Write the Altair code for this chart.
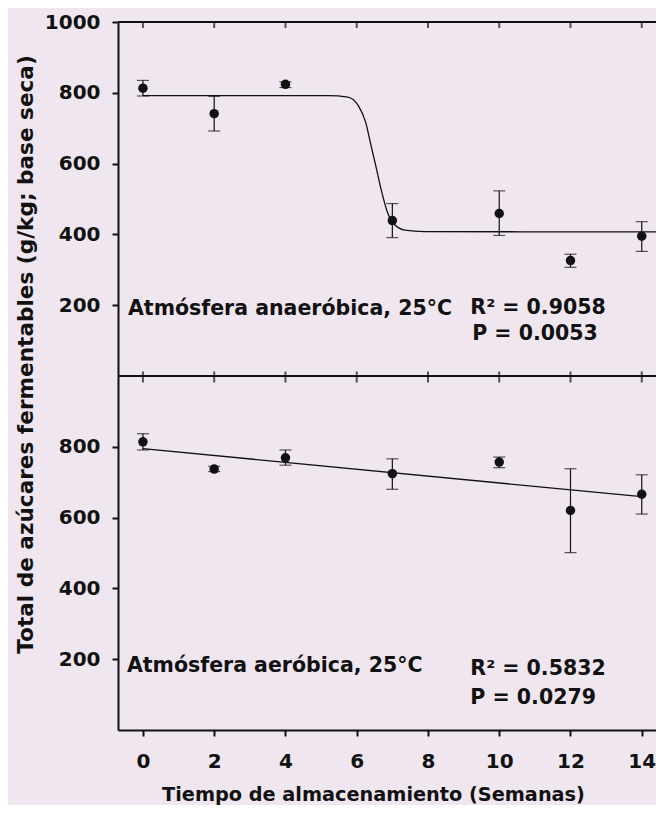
import altair as alt
import pandas as pd

# ---------------- data ----------------
weeks = [0, 2, 4, 7, 10, 12, 14]

# upper panel: anaerobic atmosphere
anaer_mean = [813, 741, 824, 439, 459, 326, 395]
anaer_hi = [835, 790, 831, 487, 523, 344, 436]
anaer_lo = [791, 692, 815, 391, 397, 307, 352]

# lower panel: aerobic atmosphere
aer_mean = [814, 737, 769, 724, 757, 620, 666]
aer_hi = [837, 745, 791, 766, 771, 738, 721]
aer_lo = [791, 730, 748, 680, 741, 501, 610]

# fitted curves
curve_x = [0, 5.2, 5.75, 6.05, 6.25, 6.4, 6.55, 6.7, 6.85, 7.0, 7.35, 7.9, 14.4]
curve_y = [792, 792, 788, 763, 717, 652, 587, 521, 466, 435, 412, 408, 407]
line_x = [0, 14]
line_y = [795, 659]

x_ticks = [0, 2, 4, 6, 8, 10, 12, 14]
y_ticks = [200, 400, 600, 800]
X_MIN, X_MAX = -0.7, 14.4
PANEL = 1000  # each panel spans 0..1000; upper panel is stacked above

ann_text = ["Atmósfera anaeróbica, 25°C", "R² = 0.9058", "P = 0.0053",
            "Atmósfera aeróbica, 25°C", "R² = 0.5832", "P = 0.0279"]
ann_x = [-0.42, 9.19, 9.24, -0.45, 9.19, 9.19]
ann_y = [173, 175, 102, 165, 154, 73]
ann_panel = [1, 1, 1, 0, 0, 0]

# ---------------- tables ----------------
pts = pd.DataFrame({
    "x": weeks * 2,
    "m": anaer_mean + aer_mean,
    "hi": anaer_hi + aer_hi,
    "lo": anaer_lo + aer_lo,
    "panel": [1] * len(weeks) + [0] * len(weeks),
})
pts["ym"] = pts["m"] + pts["panel"] * PANEL
pts["yhi"] = pts["hi"] + pts["panel"] * PANEL
pts["ylo"] = pts["lo"] + pts["panel"] * PANEL

curve = pd.DataFrame({"x": curve_x, "y": [v + PANEL for v in curve_y]})
lin = pd.DataFrame({"x": line_x, "y": line_y})
ann = pd.DataFrame({"t": ann_text, "x": ann_x,
                    "y": [v + p * PANEL for v, p in zip(ann_y, ann_panel)]})
tk = pd.DataFrame({"x": x_ticks})

all_y_ticks = y_ticks + [v + PANEL for v in y_ticks] + [2 * PANEL]

FONT = "DejaVu Sans"
INK = "#111111"

xscale = alt.Scale(domain=[X_MIN, X_MAX], nice=False, zero=False)
yscale = alt.Scale(domain=[0, 2 * PANEL], nice=False, zero=False)

xaxis = alt.Axis(values=x_ticks, title="Tiempo de almacenamiento (Semanas)",
                 grid=False, tickSize=6, labelPadding=15,
                 titleX=255, titleY=70, titleBaseline="alphabetic",
                 titleAnchor="start", titleAlign="center")
yaxis = alt.Axis(values=all_y_ticks,
                 labelExpr="datum.value > 1000 ? datum.value - 1000 : datum.value",
                 title="Total de azúcares fermentables (g/kg; base seca)",
                 grid=False, tickSize=6, labelPadding=12,
                 titleX=-92, titleY=332, titleBaseline="middle",
                 titleAlign="center", titleAngle=-90)

base_x = alt.X("x:Q", scale=xscale, axis=xaxis)

# axis carrier (invisible)
frame = alt.Chart(tk).mark_point(opacity=0).encode(
    x=base_x, y=alt.Y("x:Q", scale=yscale, axis=yaxis)
)

top_line = alt.Chart(tk).mark_rule(color=INK, strokeWidth=2).encode(
    x=alt.datum(X_MIN), x2=alt.datum(X_MAX), y=alt.datum(2 * PANEL))
mid_line = alt.Chart(tk).mark_rule(color=INK, strokeWidth=2).encode(
    x=alt.datum(X_MIN), x2=alt.datum(X_MAX), y=alt.datum(PANEL))

top_ticks = alt.Chart(tk).mark_tick(orient="vertical", size=6, thickness=2,
                                    color=INK, yOffset=3).encode(
    x="x:Q", y=alt.datum(2 * PANEL))
mid_ticks = alt.Chart(tk).mark_tick(orient="vertical", size=11, thickness=2,
                                    color=INK, yOffset=1).encode(
    x="x:Q", y=alt.datum(PANEL))

err = alt.Chart(pts).mark_rule(color=INK, strokeWidth=1.2).encode(
    x="x:Q", y="ylo:Q", y2="yhi:Q")
cap_hi = alt.Chart(pts).mark_tick(orient="horizontal", size=12, thickness=1.2,
                                  color=INK).encode(x="x:Q", y="yhi:Q")
cap_lo = alt.Chart(pts).mark_tick(orient="horizontal", size=12, thickness=1.2,
                                  color=INK).encode(x="x:Q", y="ylo:Q")
dots = alt.Chart(pts).mark_circle(size=90, color=INK, opacity=1).encode(
    x="x:Q", y="ym:Q")

curve_l = alt.Chart(curve).mark_line(color=INK, strokeWidth=1.3,
                                     interpolate="monotone").encode(
    x="x:Q", y="y:Q")
lin_l = alt.Chart(lin).mark_line(color=INK, strokeWidth=1.3).encode(
    x="x:Q", y="y:Q")

texts = alt.Chart(ann).mark_text(align="left", baseline="alphabetic",
                                 font=FONT, fontSize=20.5, fontWeight="bold",
                                 color=INK).encode(
    x="x:Q", y="y:Q", text="t:N")

chart = alt.layer(frame, top_line, mid_line, top_ticks, mid_ticks, curve_l,
                  lin_l, err, cap_hi, cap_lo, dots, texts).properties(
    width=538, height=708,
    autosize=alt.AutoSizeParams(type="none"),
    padding={"left": 110, "top": 14, "right": 0, "bottom": 75},
    background="#F0E6F0",
).configure_view(stroke=None).configure_axis(
    domainColor=INK, domainWidth=2, tickColor=INK, tickWidth=2,
    labelFont=FONT, labelFontSize=20, labelFontWeight="bold", labelColor=INK,
    titleFont=FONT, titleFontWeight="bold", titleColor=INK,
).configure_axisX(titleFontSize=19.3).configure_axisY(titleFontSize=21.6)

chart.save("out.html", embed_options={"renderer": "svg", "actions": False})
